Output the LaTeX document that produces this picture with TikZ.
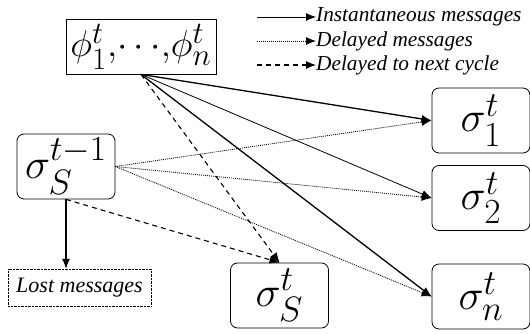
\documentclass[tikz,border=0pt]{standalone}
\usepackage{fontspec}
\setmainfont{Liberation Serif}
\usepackage{amsmath}
\usepackage{graphicx}
\usetikzlibrary{arrows.meta}
\newcommand{\bigsym}[2][1.7]{\scalebox{#1}{\Huge$#2$}}

\begin{document}
\begin{tikzpicture}[x=1pt, y=-1pt,
  sq/.style={draw, thick, minimum width=150pt, minimum height=55pt, inner sep=0pt},
  st/.style={draw, thick, rounded corners=7pt, minimum width=98pt, minimum height=65pt, inner sep=0pt},
  lost/.style={draw, densely dotted, minimum width=143pt, minimum height=37pt, inner sep=0pt, font=\fontsize{22}{25}\selectfont\itshape},
  leg/.style={anchor=west, inner sep=0pt, font=\fontsize{21.3}{24}\selectfont\itshape},
  inst/.style={-{Latex[length=10pt,width=8pt]}, line width=1.3pt},
  instthin/.style={-{Latex[length=10pt,width=8pt]}, line width=0.8pt},
  dly/.style={-{Latex[length=10pt,width=8pt]}, line width=0.8pt, dash pattern=on 1pt off 1pt},
  nxt/.style={-{Latex[length=10pt,width=8pt]}, line width=1.1pt, dash pattern=on 5pt off 4pt},
]
\useasboundingbox (0,0) rectangle (530,334);

% agents
\node[sq] (phi) at (141,46.5) {\bigsym[1.5]{\phi^{t}_{1}{,}{\cdots}{,}\phi^{t}_{n}}};
\node[st] (prev) at (66,166.5) {\bigsym{\sigma^{t-1}_{S}}};
\node[st] (sigS) at (279.5,295.5) {\bigsym{\sigma^{t}_{S}}};
\node[st] (sig1) at (481,120.5) {\bigsym{\sigma^{t}_{1}}};
\node[st] (sig2) at (481,198) {\bigsym{\sigma^{t}_{2}}};
\node[st] (sign) at (481,296.5) {\bigsym{\sigma^{t}_{n}}};
\node[lost] (lostmsg) at (79.5,287.5) {Lost messages};

% legend
\coordinate (l1) at (257,17);
\coordinate (l2) at (257,41);
\coordinate (l3) at (257,65);
\node[leg] (t1) at (316,17) {Instantaneous messages};
\node[leg] (t2) at (316,41) {Delayed messages};
\node[leg] (t3) at (316,65) {Delayed to next cycle};
\draw[instthin] (l1) -- (t1.west);
\draw[dly] (l2) -- (t2.west);
\draw[nxt] (l3) -- (t3.west);

% messages
\draw[inst] (phi.south) -- (sig1.west);
\draw[instthin] (phi.south) -- (sig2.west);
\draw[inst] (phi.south) -- (sign.west);
\draw[nxt] (phi.south) -- (sigS.north);

\draw[dly] (prev.east) -- (sig1.west);
\draw[dly] (prev.east) -- (sig2.west);
\draw[dly] (prev.east) -- (sign.west);
\draw[nxt] (prev.south) -- (sigS.north);
\draw[inst] (prev.south) -- (prev.south |- lostmsg.north);

\end{tikzpicture}
\end{document}
